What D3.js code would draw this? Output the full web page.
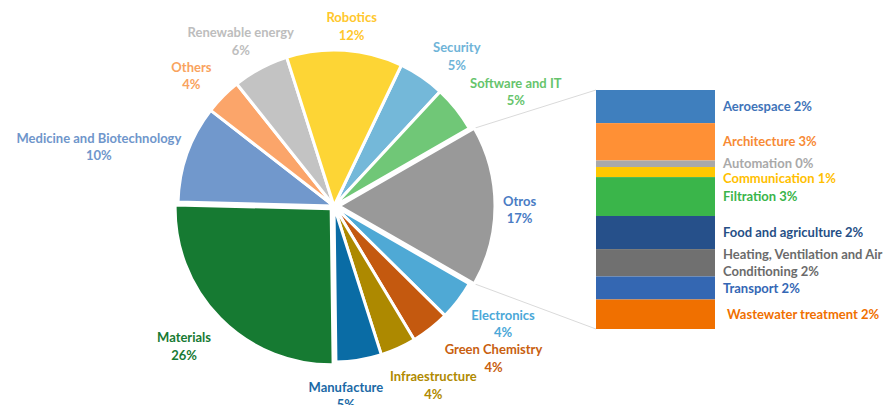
<!DOCTYPE html>
<html>
<head>
<meta charset="utf-8">
<script src="https://cdn.jsdelivr.net/npm/d3@7"></script>
<style>
  html, body { margin: 0; padding: 0; background: #ffffff; }
  svg { display: block; }
  text { font-family: Lato, "Open Sans", sans-serif; font-weight: 700; }
</style>
</head>
<body>
<svg id="chart" width="886" height="405"></svg>
<script>
// ---- data ----
const pieNames = ["Security", "Software and IT", "Otros", "Electronics", "Green Chemistry",
  "Infraestructure", "Manufacture", "Materials", "Medicine and Biotechnology", "Others",
  "Renewable energy", "Robotics"];
const pieValues = [4.8, 4.8, 16.6, 4.1, 4.0, 3.7, 4.7, 25.6, 10.1, 3.8, 5.8, 12.0];
const pieColors = ["#74B8D9", "#70C777", "#999999", "#4FA9D5", "#C4590F", "#AD8900",
  "#0A6CA5", "#167A32", "#7198CC", "#FBA56A", "#C3C3C3", "#FDD535"];
const pieLabelColors = ["#6FB4D8", "#66C46C", "#4A7CC4", "#4BA8D8", "#C8600F", "#B08A00",
  "#1B69A6", "#177A33", "#6F96CB", "#F9A35E", "#BDBDBD", "#FFC72C"];

const barNames = ["Aeroespace", "Architecture", "Automation", "Communication", "Filtration",
  "Food and agriculture", "Heating, Ventilation and Air Conditioning", "Transport",
  "Wastewater treatment"];
const barValues = [2.3, 2.6, 0.45, 0.7, 2.7, 2.3, 1.9, 1.6, 2.05];
const barColors = ["#3F7FBE", "#FF9035", "#A9A9A9", "#FFC800", "#3AB54A", "#26508A",
  "#707070", "#3467B2", "#F07000"];
const barLabelColors = ["#3F74B9", "#F78A35", "#A9A9A9", "#FFC000", "#3AB54A", "#264F86",
  "#6B6B6B", "#3467B5", "#F07000"];

const otherName = "Otros";

// ---- layout ----
const svg = d3.select("#chart");
const cx = 334, cy = 206, R = 156;
const explode = { "Otros": 5, "Materials": 4 };
const barX = 596, barW = 119, barTop = 90, barBottom = 329;
const lineH = 17.5;
// label placement tweaks (Excel "best fit" style), in pixels
const labelNudge = {
  "Robotics": [5, 3], "Renewable energy": [3, 16], "Others": [-7, 4],
  "Medicine and Biotechnology": [-2, 24], "Security": [15, 9], "Software and IT": [17, 17],
  "Otros": [0, 4], "Electronics": [10, -3], "Green Chemistry": [31, -11],
  "Infraestructure": [18, -1], "Manufacture": [-18, 5], "Materials": [-8, 0]
};

// calibrate font size to match reference text width
const probe = svg.append("text").attr("font-size", 14).text("Medicine and Biotechnology");
const fs = 14 * 165 / probe.node().getComputedTextLength();
probe.remove();

const total = d3.sum(pieValues);
const otherIdx = pieNames.indexOf(otherName);
const before = d3.sum(pieValues.slice(0, otherIdx));
const start = Math.PI / 2 - (before + pieValues[otherIdx] / 2) / total * 2 * Math.PI;

const pie = d3.pie().sort(null).value(d => d.v)
  .startAngle(start).endAngle(start + 2 * Math.PI);
const data = pieNames.map((n, i) => ({ n, v: pieValues[i], c: pieColors[i], lc: pieLabelColors[i] }));
const arcs = pie(data);
const arc = d3.arc().innerRadius(0).outerRadius(R);

function offset(d) {
  const e = explode[d.data.n] || 0;
  const a = (d.startAngle + d.endAngle) / 2;
  return [e * Math.sin(a), -e * Math.cos(a)];
}

// leader lines (drawn first, behind)
const oArc = arcs[otherIdx];
const oo = offset(oArc);
const p0 = [cx + oo[0] + R * Math.sin(oArc.startAngle), cy + oo[1] - R * Math.cos(oArc.startAngle)];
const p1 = [cx + oo[0] + R * Math.sin(oArc.endAngle), cy + oo[1] - R * Math.cos(oArc.endAngle)];
svg.append("line").attr("x1", p0[0]).attr("y1", p0[1]).attr("x2", barX).attr("y2", barTop)
  .attr("stroke", "#DADADA").attr("stroke-width", 1);
svg.append("line").attr("x1", p1[0]).attr("y1", p1[1]).attr("x2", barX).attr("y2", barBottom)
  .attr("stroke", "#DADADA").attr("stroke-width", 1);

// pie slices
const g = svg.append("g").attr("transform", `translate(${cx},${cy})`);
g.selectAll("path").data(arcs).join("path")
  .attr("d", arc)
  .attr("transform", d => { const o = offset(d); return `translate(${o[0]},${o[1]})`; })
  .attr("fill", d => d.data.c)
  .attr("stroke", "#ffffff").attr("stroke-width", 3).attr("stroke-linejoin", "round");

// pie labels
const pad = 8;
arcs.forEach(d => {
  const a = (d.startAngle + d.endAngle) / 2;
  const lines = [d.data.n, Math.round(d.data.v) + "%"];
  const t = svg.append("text").attr("font-size", fs).attr("fill", d.data.lc)
    .attr("text-anchor", "middle");
  lines.forEach((l, i) => t.append("tspan").attr("x", 0).attr("dy", i === 0 ? 0 : lineH).text(l));
  const w = d3.max(t.selectAll("tspan").nodes(), n => n.getComputedTextLength());
  const h = lines.length * lineH;
  const o = offset(d);
  const rr = R + pad + (w / 2) * Math.abs(Math.sin(a)) + (h / 2) * Math.abs(Math.cos(a));
  const nd = labelNudge[d.data.n] || [0, 0];
  const lx = cx + o[0] + rr * Math.sin(a) + nd[0];
  const ly = cy + o[1] - rr * Math.cos(a) + nd[1];
  t.attr("transform", `translate(${lx},${ly - h / 2 + lineH / 2 + fs * 0.35})`);
});

// bar of pie
const y = d3.scaleLinear().domain([0, d3.sum(barValues)]).range([barTop, barBottom]);
const cum = d3.cumsum(barValues);
const segs = barValues.map((v, i) => ({ n: barNames[i], v, c: barColors[i], lc: barLabelColors[i],
  y0: i === 0 ? 0 : cum[i - 1], y1: cum[i] }));
svg.append("g").selectAll("rect").data(segs).join("rect")
  .attr("x", barX).attr("width", barW)
  .attr("y", d => y(d.y0)).attr("height", d => y(d.y1) - y(d.y0))
  .attr("fill", d => d.c);

// bar labels with wrapping and collision avoidance
const labelX = 723, maxW = 160, boxLine = 15;
let prevBottom = -Infinity;
segs.forEach((d, idx) => {
  const full = d.n + " " + Math.round(d.v) + "%";
  const t = svg.append("text").attr("font-size", fs).attr("fill", d.lc);
  const words = full.split(" ");
  const lines = [];
  let cur = "";
  const meas = t.append("tspan");
  words.forEach(wd => {
    const test = cur ? cur + " " + wd : wd;
    meas.text(test);
    if (meas.node().getComputedTextLength() > maxW && cur) { lines.push(cur); cur = wd; }
    else cur = test;
  });
  lines.push(cur);
  meas.remove();
  const lx = labelX + (idx === segs.length - 1 ? 4 : 0);
  lines.forEach((l, i) => t.append("tspan").attr("x", lx).attr("dy", i === 0 ? 0 : 17).text(l));
  let c = (y(d.y0) + y(d.y1)) / 2;
  const bh = lines.length * boxLine;
  let top = c - bh / 2;
  if (top < prevBottom) { top = prevBottom; c = top + bh / 2; }
  prevBottom = top + bh;
  const firstCenter = c - (lines.length - 1) * 17 / 2;
  t.attr("transform", `translate(0,${firstCenter + fs * 0.35})`);
});
</script>
</body>
</html>
